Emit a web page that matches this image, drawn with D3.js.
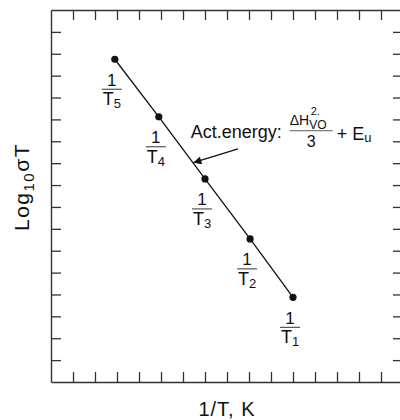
<!DOCTYPE html>
<meta charset="utf-8">
<style>
body { margin: 0; background: #fff; }
svg text { font-family: "Liberation Sans", Arial, sans-serif; fill: #111; }
</style>
<body>
<svg width="400" height="420"></svg>
</body>
<script src="https://d3js.org/d3.v7.min.js"></script>
<script>
// points T1..T5 (1/T in tick units, log10 sigma T in tick units)
const invT = [11.0, 9.05, 7.0, 4.9, 2.9];
const logSigmaT = [3.87, 6.54, 9.28, 12.12, 14.75];
const subs = ["1", "2", "3", "4", "5"];
const xTicks = d3.range(1, 16);
const yTicks = d3.range(1, 17);

const svg = d3.select("svg");
const x = d3.scaleLinear().domain([0, 16]).range([51, 403]);
const y = d3.scaleLinear().domain([0, 17]).range([382, 10]);

// frame with inward ticks
function frame(axis, tx, ty) {
    const g = svg.append("g").attr("transform", `translate(${tx},${ty})`)
        .call(axis.tickSize(-10).tickSizeOuter(0).tickFormat(""));
    g.selectAll("path.domain").attr("stroke", "#333").attr("stroke-width", 1.4);
    g.selectAll(".tick line").attr("stroke", "#333").attr("stroke-width", 1.3);
}
frame(d3.axisBottom(x).tickValues(xTicks), 0, y(0));
frame(d3.axisTop(x).tickValues(xTicks), 0, y(17));
frame(d3.axisLeft(y).tickValues(yTicks), x(0), 0);
frame(d3.axisRight(y).tickValues(yTicks), x(16), 0);

const pts = invT.map((v, i) => ({x: v, y: logSigmaT[i], s: subs[i]}));

svg.append("path")
    .datum(pts)
    .attr("fill", "none")
    .attr("stroke", "#111")
    .attr("stroke-width", 1.3)
    .attr("d", d3.line().x(d => x(d.x)).y(d => y(d.y)));

svg.selectAll("circle.pt")
    .data(pts)
    .enter().append("circle")
    .attr("class", "pt")
    .attr("cx", d => x(d.x))
    .attr("cy", d => y(d.y))
    .attr("r", 3.6)
    .attr("fill", "#111");

// fraction labels 1/Tn
const lab = svg.selectAll("g.lab")
    .data(pts)
    .enter().append("g")
    .attr("class", "lab")
    .attr("transform", d => `translate(${x(d.x) - 3},${y(d.y)})`);
lab.append("text")
    .attr("text-anchor", "middle")
    .attr("y", 26.5)
    .style("font-size", "17px")
    .text("1");
lab.append("line")
    .attr("x1", -10).attr("x2", 10)
    .attr("y1", 30).attr("y2", 30)
    .attr("stroke", "#333").attr("stroke-width", 1);
const tl = lab.append("text")
    .attr("text-anchor", "middle")
    .attr("y", 46)
    .style("font-size", "18px");
tl.append("tspan").text("T");
tl.append("tspan").attr("dy", 3).style("font-size", "13px").text(d => d.s);

// annotation
svg.append("defs").append("marker")
    .attr("id", "ah")
    .attr("viewBox", "0 0 10 10")
    .attr("refX", 10).attr("refY", 5)
    .attr("markerWidth", 10).attr("markerHeight", 8)
    .attr("markerUnits", "userSpaceOnUse")
    .attr("orient", "auto")
    .append("path").attr("d", "M0,0L10,5L0,10Z").attr("fill", "#111");

svg.append("line")
    .attr("x1", x(8.5)).attr("y1", y(10.65))
    .attr("x2", x(6.47)).attr("y2", y(10.02))
    .attr("stroke", "#111").attr("stroke-width", 1.3)
    .attr("marker-end", "url(#ah)");

const ax = x(6.35), ay = y(11.14);
svg.append("text").attr("x", ax).attr("y", ay)
    .style("font-size", "18px").text("Act.energy:");
const fx = ax + 99;
// numerator: delta H, subscript VO, superscript 2.
const num = svg.append("text").attr("x", fx).attr("y", ay - 13.5).style("font-size", "14px");
num.append("tspan").text("\u0394H");
num.append("tspan").attr("dy", 4).style("font-size", "12px").text("VO");
num.append("tspan").attr("x", fx + 21).attr("dy", -14).style("font-size", "11px").text("2.");
svg.append("line")
    .attr("x1", fx).attr("x2", fx + 43)
    .attr("y1", ay - 7.5).attr("y2", ay - 7.5)
    .attr("stroke", "#333").attr("stroke-width", 0.8);
svg.append("text").attr("x", fx + 21.5).attr("y", ay + 9)
    .attr("text-anchor", "middle").style("font-size", "16px").text("3");
const eu = svg.append("text").attr("x", fx + 47).attr("y", ay + 1.5).style("font-size", "18px");
eu.append("tspan").text("+ E");
eu.append("tspan").attr("dy", 2.5).style("font-size", "13px").text("u");

// axis titles
svg.append("text")
    .attr("x", 227).attr("y", 416)
    .attr("text-anchor", "middle")
    .style("font-size", "20px")
    .style("letter-spacing", "1px")
    .text("1/T, K");

const yl = svg.append("text")
    .attr("transform", "translate(29,187) rotate(-90)")
    .attr("text-anchor", "middle")
    .style("font-size", "21px")
    .style("letter-spacing", "1.5px");
yl.append("tspan").text("Log");
yl.append("tspan").attr("dy", 5).style("font-size", "15px").text("10");
yl.append("tspan").attr("dy", -5).text("\u03c3T");
</script>
